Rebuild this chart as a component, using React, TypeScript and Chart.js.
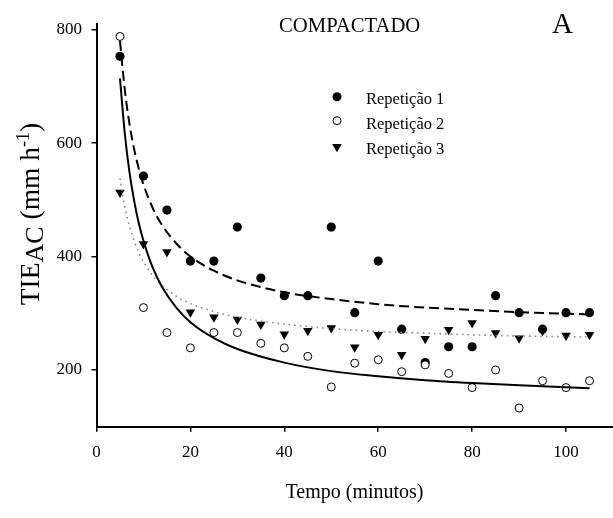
import React, { useEffect, useRef } from "react";
import { Chart, registerables } from "chart.js";

Chart.register(...registerables);

// ---- data ----
const times = [5, 10, 15, 20, 25, 30, 35, 40, 45, 50, 55, 60, 65, 70, 75, 80, 85, 90, 95, 100, 105];
const rep1 = [753, 542, 482, 392, 392, 452, 362, 331, 331, 452, 301, 392, 272, 213, 241, 241, 331, 301, 272, 301, 301];
const rep2 = [788, 310, 266, 239, 266, 266, 247, 239, 224, 170, 212, 218, 197, 209, 194, 169, 200, 133, 181, 169, 181];
const rep3 = [513, 422, 408, 302, 293, 289, 280, 263, 269, 274, 240, 262, 227, 255, 271, 283, 265, 256, 269, 261, 262];

const fitX = [5, 6, 7, 8, 9, 10, 12, 14, 17, 20, 25, 30, 40, 50, 60, 70, 80, 90, 105];
const fit1 = [780, 696, 635, 590, 555, 527, 485, 455, 423, 400, 375, 358, 337, 325, 316, 310, 306, 302, 298];
const fit2 = [714, 619, 550, 499, 459, 428, 380, 346, 310, 284, 256, 237, 213, 198, 189, 182, 177, 173, 168];
const fit3 = [538, 489, 454, 428, 407, 391, 366, 349, 330, 317, 303, 293, 281, 273, 268, 265, 262, 260, 258];

const xTicks = [0, 20, 40, 60, 80, 100];
const yTicks = [200, 400, 600, 800];
const legendLabels = ["Repetição 1", "Repetição 2", "Repetição 3"];
const chartTitle = "COMPACTADO";
const panelLetter = "A";
const xTitle = "Tempo (minutos)";

const FONT = "'Liberation Serif', 'Times New Roman', serif";

const pts = (xs: number[], ys: number[]) => xs.map((x, i) => ({ x, y: ys[i] }));

const overlayPlugin = {
  id: "overlay",
  afterDraw(chart: any) {
    const ctx = chart.ctx as CanvasRenderingContext2D;
    ctx.save();
    ctx.fillStyle = "#000";
    ctx.strokeStyle = "#000";

    // title
    ctx.font = `20.7px ${FONT}`;
    ctx.textAlign = "left";
    ctx.textBaseline = "alphabetic";
    ctx.fillText(chartTitle, 279, 32);

    // panel letter
    ctx.font = `29px ${FONT}`;
    ctx.fillText(panelLetter, 552, 33);

    // legend
    const lx = 337;
    const my = [96.7, 120.7, 146.7];
    const by = [104, 128.5, 153.5];
    ctx.beginPath();
    ctx.arc(lx, my[0], 4.5, 0, Math.PI * 2);
    ctx.fill();
    ctx.beginPath();
    ctx.arc(lx, my[1], 4, 0, Math.PI * 2);
    ctx.fillStyle = "#fff";
    ctx.fill();
    ctx.lineWidth = 1;
    ctx.stroke();
    ctx.fillStyle = "#000";
    const r = 5.5;
    ctx.beginPath();
    ctx.moveTo(lx, my[2] + r);
    ctx.lineTo(lx - r * 0.866, my[2] - r / 2);
    ctx.lineTo(lx + r * 0.866, my[2] - r / 2);
    ctx.closePath();
    ctx.fill();

    ctx.font = `16.5px ${FONT}`;
    legendLabels.forEach((t, i) => ctx.fillText(t, 366, by[i]));

    // x title
    ctx.font = `20px ${FONT}`;
    ctx.textAlign = "center";
    ctx.fillText(xTitle, 354.5, 498);

    // y title with subscript / superscript
    const parts = [
      { t: "TIE", f: 27.5, dy: 0 },
      { t: "AC", f: 26, dy: 4 },
      { t: " (mm h", f: 27.5, dy: 0 },
      { t: "-1", f: 18, dy: -10 },
      { t: ")", f: 27.5, dy: 0 },
    ];
    let total = 0;
    const widths = parts.map((p) => {
      ctx.font = `${p.f}px ${FONT}`;
      const w = ctx.measureText(p.t).width;
      total += w;
      return w;
    });
    ctx.translate(39, 214);
    ctx.rotate(-Math.PI / 2);
    ctx.textAlign = "left";
    let x = -total / 2;
    parts.forEach((p, i) => {
      ctx.font = `${p.f}px ${FONT}`;
      ctx.fillText(p.t, x, p.dy);
      x += widths[i];
    });
    ctx.restore();
  },
};

export default function App() {
  const ref = useRef<HTMLCanvasElement | null>(null);

  useEffect(() => {
    if (!ref.current) return;
    const lineCommon = {
      type: "line" as const,
      showLine: true,
      pointRadius: 0,
      fill: false,
      cubicInterpolationMode: "monotone" as const,
    };
    const chart = new Chart(ref.current, {
      type: "scatter",
      data: {
        datasets: [
          {
            ...lineCommon,
            label: "fit1",
            data: pts(fitX, fit1),
            borderColor: "#000",
            borderWidth: 2,
            borderDash: [10, 5],
          },
          {
            ...lineCommon,
            label: "fit2",
            data: pts(fitX, fit2),
            borderColor: "#000",
            borderWidth: 2,
          },
          {
            ...lineCommon,
            label: "fit3",
            data: pts(fitX, fit3),
            borderColor: "#8a8a8a",
            borderWidth: 1.6,
            borderDash: [1.6, 4],
          },
          {
            label: legendLabels[1],
            data: pts(times, rep2),
            pointStyle: "circle",
            pointRadius: 4,
            pointBackgroundColor: "#fff",
            pointBorderColor: "#000",
            pointBorderWidth: 1,
          },
          {
            label: legendLabels[0],
            data: pts(times, rep1),
            pointStyle: "circle",
            pointRadius: 4.6,
            pointBackgroundColor: "#000",
            pointBorderColor: "#000",
            pointBorderWidth: 0,
          },
          {
            label: legendLabels[2],
            data: pts(times, rep3),
            pointStyle: "triangle",
            rotation: 180,
            pointRadius: 5.5,
            pointBackgroundColor: "#000",
            pointBorderColor: "#000",
            pointBorderWidth: 0,
          },
        ] as any,
      },
      options: {
        responsive: false,
        animation: false,
        layout: { autoPadding: false, padding: { top: 24, right: 0, left: 0, bottom: 0 } },
        plugins: {
          legend: { display: false },
          tooltip: { enabled: false },
          title: { display: false },
        },
        scales: {
          x: {
            type: "linear",
            min: 0,
            max: 110,
            afterBuildTicks: (s: any) => {
              s.ticks = xTicks.map((v) => ({ value: v }));
            },
            afterFit: (s: any) => {
              s.height = 91.3;
              s.paddingLeft = 0;
              s.paddingRight = 0;
            },
            grid: { drawOnChartArea: false, drawTicks: true, tickLength: 5, color: "#000", lineWidth: 1.5 },
            border: { display: true, color: "#000", width: 2 },
            ticks: {
              color: "#000",
              font: { family: FONT, size: 17 },
              padding: 11,
              maxRotation: 0,
              autoSkip: false,
            },
          },
          y: {
            type: "linear",
            min: 100,
            max: 810,
            afterBuildTicks: (s: any) => {
              s.ticks = yTicks.map((v) => ({ value: v }));
            },
            afterFit: (s: any) => {
              s.width = 96.5;
              s.paddingTop = 0;
              s.paddingBottom = 0;
            },
            grid: { drawOnChartArea: false, drawTicks: true, tickLength: 5, color: "#000", lineWidth: 1.5 },
            border: { display: true, color: "#000", width: 2 },
            ticks: {
              color: "#000",
              font: { family: FONT, size: 17 },
              padding: 9.5,
              autoSkip: false,
            },
          },
        },
      } as any,
      plugins: [overlayPlugin],
    });
    return () => chart.destroy();
  }, []);

  return (
    <div style={{ position: "absolute", left: 0, top: 0, width: 613, height: 518, background: "#fff" }}>
      <canvas ref={ref} width={613} height={518} style={{ display: "block", width: 613, height: 518 }} />
    </div>
  );
}
